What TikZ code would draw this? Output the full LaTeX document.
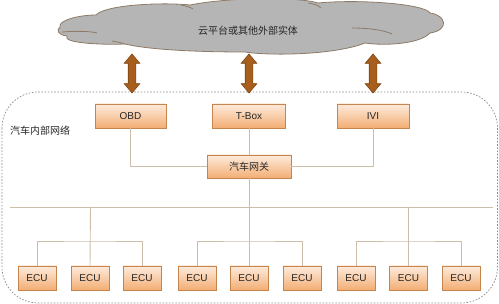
\documentclass[tikz,border=0pt]{standalone}
\usepackage{fontspec}
\setmainfont{Liberation Sans}
\newfontfamily\cjk{Noto Sans CJK SC}
\usetikzlibrary{shapes.arrows}
\definecolor{boxtop}{HTML}{FDEBDC}
\definecolor{boxbot}{HTML}{F3AE74}
\definecolor{boxline}{HTML}{C4864E}
\definecolor{wire}{HTML}{CDBDAB}
\definecolor{arrfill}{HTML}{A85E1C}
\definecolor{arrline}{HTML}{7E4512}
\definecolor{cloudfill}{HTML}{B5B5B5}
\definecolor{cloudline}{HTML}{8E7A66}
\definecolor{frameline}{HTML}{8A8A8A}
\tikzset{
  unitbox/.style={draw=boxline, line width=0.9pt, top color=boxtop, bottom color=boxbot,
    minimum height=24pt, inner sep=0pt, font=\fontsize{10}{12}\selectfont, text=black!85},
  topbox/.style={unitbox, minimum width=71pt},
  ecubox/.style={unitbox, minimum width=38pt},
  wireline/.style={draw=wire, line width=0.9pt},
  updown/.style={double arrow, fill=arrfill, draw=arrline, line width=0.6pt, rotate=90,
    minimum height=39pt, minimum width=15pt, inner sep=3.5pt, double arrow head extend=4pt,
    double arrow tip angle=80},
  cloudedge/.style={draw=cloudline, line width=0.8pt},
}
\begin{document}
\begin{tikzpicture}[x=1pt,y=-1pt]
\useasboundingbox (0,0) rectangle (499,304);
% cloud
\path[cloudedge, fill=cloudfill] (60,27)
  .. controls (58,20) and (80,15) .. (96,15)
  .. controls (105,5) and (160,2) .. (190,5)
  .. controls (230,-3) and (300,-3) .. (318,3)
  .. controls (360,-1) and (425,4) .. (430,13)
  .. controls (446,15) and (450,30) .. (430,33)
  .. controls (420,44) and (385,46) .. (365,43)
  .. controls (335,55) and (270,56) .. (245,52)
  .. controls (200,52) and (150,50) .. (125,44)
  .. controls (100,45) and (62,43) .. (67,36)
  .. controls (58,35) and (56,30) .. (60,27) -- cycle;
\draw[cloudedge] (62,32) .. controls (75,31) and (90,31) .. (97,33);
\draw[cloudedge] (181,5) .. controls (186,6) and (190,7) .. (193,9);
\draw[cloudedge] (308,3) .. controls (314,4) and (318,5) .. (321,8);
\draw[cloudedge] (352,28) .. controls (368,28) and (384,30) .. (392,34);
\draw[cloudedge] (112,41) .. controls (118,42) and (122,43) .. (125,44);
\node[font=\cjk\fontsize{10}{12}\selectfont, text=black!85] (cloudtxt) at (248,31) {云平台或其他外部实体};
% frame
\draw[draw=frameline, line width=0.7pt, dash pattern=on 1.6pt off 1.6pt, rounded corners=36pt]
  (2,92) rectangle (497.5,303);
\node[anchor=west, font=\cjk\fontsize{10}{12}\selectfont, text=black!85, inner sep=0pt] (inner) at (10,131) {汽车内部网络};
% arrows
\node[updown] (a1) at (132,73.5) {};
\node[updown] (a2) at (249,73.5) {};
\node[updown] (a3) at (373,73.5) {};
% top boxes
\node[topbox] (obd) at (130.5,116) {OBD};
\node[topbox, minimum width=73pt] (tbox) at (249,116) {T-Box};
\node[topbox, minimum width=72pt] (ivi) at (373,116) {IVI};
\node[unitbox, minimum width=84pt, minimum height=23pt, font=\cjk\fontsize{10}{12}\selectfont] (gw) at (249,166.5) {汽车网关};
% ECUs
\foreach \n/\x in {1/37,2/90,3/142,4/197,5/249,6/302,7/356,8/408.5,9/461}
  \node[ecubox] (e\n) at (\x,278) {ECU};
% coordinates
\coordinate (busL) at (10,207);
\coordinate (busR) at (493,207);
\coordinate (bL) at (90.5,207);
\coordinate (bR) at (408.5,207);
\coordinate (brL) at (90.5,241);
\coordinate (brM) at (249,241);
\coordinate (brR) at (408.5,241);
% wires
\draw[wireline] (obd.south) |- (gw.west);
\draw[wireline] (ivi.south) |- (gw.east);
\draw[wireline] (tbox.south) -- (gw.north);
\draw[wireline] (gw.south) -- (e5.north);
\draw[wireline] (busL) -- (busR);
\draw[wireline] (bL) -- (e2.north);
\draw[wireline] (bR) -- (e8.north);
\draw[wireline] (e1.north) |- (brL) -| (e3.north);
\draw[wireline] (e4.north) |- (brM) -| (e6.north);
\draw[wireline] (e7.north) |- (brR) -| (e9.north);
\end{tikzpicture}
\end{document}
